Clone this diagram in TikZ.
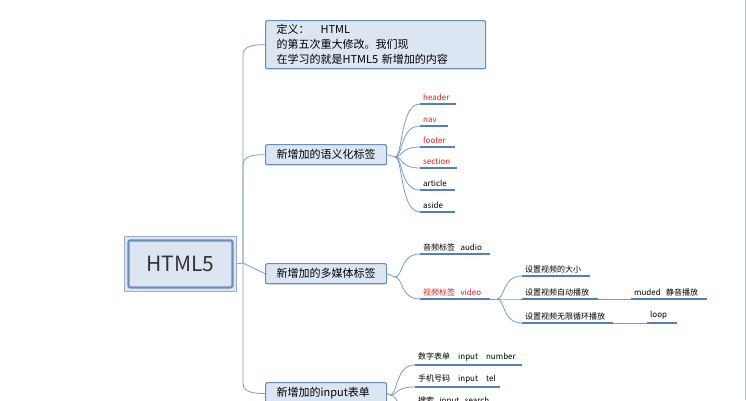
\documentclass[tikz,border=0pt]{standalone}
\usepackage{fontspec}
\setmainfont{Noto Sans CJK SC}
\begin{document}
\begin{tikzpicture}[x=1pt,y=-1pt,
  box/.style={draw=boxline,fill=boxfill,line width=1.2pt,rounded corners=2pt,font=\fontsize{11}{15}\selectfont,inner xsep=11pt,inner ysep=5pt,anchor=north west},
  leaf/.style={anchor=south west,inner xsep=3pt,inner ysep=3pt,align=left,font=\fontsize{8}{10}\selectfont},
  ul/.style={draw=ulcol,line width=1.6pt},
  con/.style={draw=concol,line width=0.8pt},
  red/.style={text=redtxt}]
\definecolor{boxfill}{HTML}{DCE6F2}
\definecolor{boxline}{HTML}{6C8EBF}
\definecolor{ulcol}{HTML}{4F81BD}
\definecolor{concol}{HTML}{7A9CC6}
\definecolor{redtxt}{HTML}{E02020}
\useasboundingbox (0,0) rectangle (746,400);
\clip (0,0) rectangle (746,400);
\fill[white] (0,0) rectangle (746,400);
\draw[concol!60,line width=0.6pt] (745,0) -- (745,400);
% root
\node[draw=boxline!70,fill=boxfill,line width=0.8pt,minimum width=112pt,minimum height=55pt,anchor=north west,inner sep=0pt] (rootout) at (124,236) {};
\node[draw=boxline,line width=2.2pt,rounded corners=2pt,minimum width=104pt,minimum height=47pt,font=\fontsize{21}{24}\selectfont,text=black!80] (root) at (rootout.center) {HTML5};
% level 1
\node[box,text width=198pt,align=left,inner ysep=4pt] (def) at (265,20) {定义：\ \ \ HTML 的第五次重大修改。我们现\\在学习的就是HTML5 新增加的内容};
\node[box,text width=99pt,align=left] (sem) at (265,144) {新增加的语义化标签};
\node[box,text width=99pt,align=left] (med) at (265,263) {新增加的多媒体标签};
\node[box,text width=99pt,align=left] (inp) at (265,382) {新增加的input表单};
\coordinate (hub) at (243,263);
\draw[con] (rootout.east) -- (hub);
\foreach \n/\d in {def/1,sem/1,inp/-1}{
  \draw[con] (hub) -- ([yshift=-\d*10pt]hub |- \n.west) to[out=90*\d,in=180] (\n.west);}
\draw[con] (hub) -- (med.west);
% semantic leaves
\coordinate (sh) at (395,157);
\draw[con] (sem.east) -- (sh);
\node[leaf,red,text width=30pt] (l1) at (420,104) {header};
\node[leaf,red,text width=22pt] (l2) at (420,126) {nav};
\node[leaf,red,text width=29pt] (l3) at (420,147) {footer};
\node[leaf,red,text width=31pt] (l4) at (420,168) {section};
\node[leaf,text width=29pt] (l5) at (420,190) {article};
\node[leaf,text width=29pt] (l6) at (420,212) {aside};
\foreach \l in {l1,l2,l3,l4,l5,l6}{
  \draw[con] (sh) .. controls (403,157) and (400,{0}|-\l.south west) .. (\l.south west);
  \draw[ul] (\l.south west) -- (\l.south east);}
% media leaves
\coordinate (mh) at (395,277);
\draw[con] (med.east) -- (mh);
\node[leaf,text width=64pt] (m1) at (420,254) {音频标签\ \ audio};
\node[leaf,red,text width=64pt] (m2) at (420,299) {视频标签\ \ video};
\foreach \l in {m1,m2}{
  \draw[con] (mh) .. controls (403,277) and (400,{0}|-\l.south west) .. (\l.south west);
  \draw[ul] (\l.south west) -- (\l.south east);}
\coordinate (vh) at (497,299);
\draw[con] (m2.south east) -- (vh);
\node[leaf,text width=62pt] (v1) at (522,276) {设置视频的大小};
\node[leaf,text width=70pt] (v2) at (522,299) {设置视频自动播放};
\node[leaf,text width=85pt] (v3) at (522,323) {设置视频无限循环播放};
\foreach \l in {v1,v2,v3}{
  \draw[con] (vh) .. controls (505,299) and (502,{0}|-\l.south west) .. (\l.south west);
  \draw[ul] (\l.south west) -- (\l.south east);}
\node[leaf,text width=70pt] (w2) at (631,299) {muded\ \ 静音播放};
\node[leaf,text width=24pt] (w3) at (647,323) {loop};
\draw[con] (v2.south east) -- (w2.south west);
\draw[con] (v3.south east) -- (w3.south west);
\draw[ul] (w2.south west) -- (w2.south east);
\draw[ul] (w3.south west) -- (w3.south east);
% input leaves
\coordinate (ih) at (390,395);
\draw[con] (inp.east) -- (ih);
\node[leaf,text width=101pt] (i1) at (415,365) {数字表单\ \ \ input\ \ \ number};
\node[leaf,text width=79pt] (i2) at (415,387) {手机号码\ \ \ input\ \ \ tel};
\node[leaf,text width=80pt] (i3) at (415,409) {搜索\ \ input\ \ search};
\foreach \l in {i1,i2,i3}{
  \draw[con] (ih) .. controls (398,395) and (395,{0}|-\l.south west) .. (\l.south west);
  \draw[ul] (\l.south west) -- (\l.south east);}
\end{tikzpicture}
\end{document}
